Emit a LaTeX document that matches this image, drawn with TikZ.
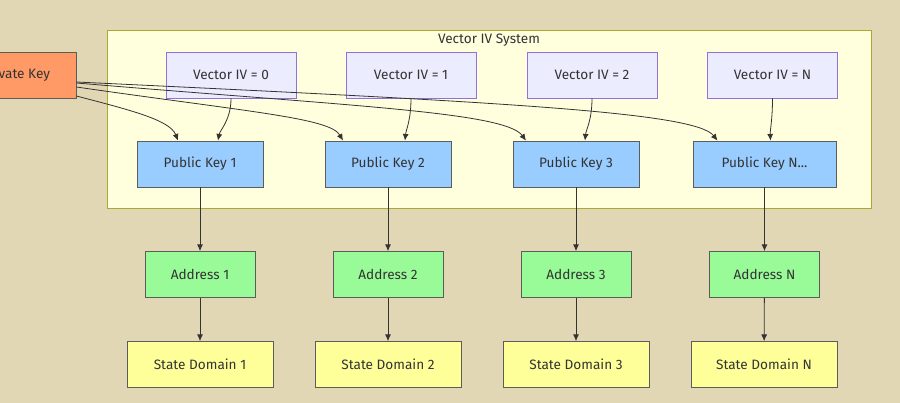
\documentclass[tikz,border=0pt]{standalone}
\usepackage{fontspec}
\setmainfont{Fira Sans}
\usepackage{xcolor}
\usetikzlibrary{arrows.meta,positioning,calc}
\definecolor{bgcol}{RGB}{226,215,180}
\definecolor{grpfill}{RGB}{255,255,222}
\definecolor{grpline}{RGB}{170,170,51}
\definecolor{ivfill}{RGB}{236,236,255}
\definecolor{ivline}{RGB}{147,112,219}
\definecolor{keyfill}{RGB}{153,204,255}
\definecolor{addrfill}{RGB}{152,251,152}
\definecolor{statefill}{RGB}{255,255,153}
\definecolor{privfill}{RGB}{255,153,102}
\definecolor{ink}{RGB}{51,51,51}

\begin{document}
\begin{tikzpicture}[
    x=0.75pt,
    y=-0.75pt,
    >=Latex,
    font=\fontsize{10.2}{12}\selectfont,
    box/.style={draw=ink!80, text=ink, minimum height=46*0.75pt, inner sep=0pt, line width=0.6pt},
    privbox/.style={box, fill=privfill, minimum width=120*0.75pt},
    ivbox/.style={box, draw=ivline, fill=ivfill, minimum width=130*0.75pt},
    pubbox/.style={box, fill=keyfill, minimum width=126*0.75pt},
    addrbox/.style={box, fill=addrfill, minimum width=110*0.75pt},
    statebox/.style={box, fill=statefill, minimum width=146*0.75pt},
    edge/.style={->, draw=ink, line width=0.6pt, >={Latex[length=5pt,width=4.5pt]}}
]
\useasboundingbox (0,0) rectangle (900,403);
\clip (0,0) rectangle (900,403);
\fill[bgcol] (0,0) rectangle (900,403);

% group
\node[draw=grpline, fill=grpfill, minimum width=764*0.75pt, minimum height=178*0.75pt, inner sep=0pt, line width=0.6pt] (sys) at (489,119) {};
\node[text=ink] (systitle) at (489,40) {Vector IV System};

\node[privbox] (priv) at (16,75) {Private Key};

\node[ivbox] (iv0) at (231,75) {Vector IV = 0};
\node[ivbox] (iv1) at (411,75) {Vector IV = 1};
\node[ivbox] (iv2) at (592,75) {Vector IV = 2};
\node[ivbox] (ivn) at (772.5,75) {Vector IV = N};

\node[pubbox] (pk1) at (200,164) {Public Key 1};
\node[pubbox] (pk2) at (388,164) {Public Key 2};
\node[pubbox] (pk3) at (576,164) {Public Key 3};
\node[pubbox, minimum width=143*0.75pt] (pkn) at (764.5,164) {Public Key N...};

\node[addrbox] (ad1) at (200,274.5) {Address 1};
\node[addrbox] (ad2) at (388,274.5) {Address 2};
\node[addrbox] (ad3) at (576,274.5) {Address 3};
\node[addrbox] (adn) at (764.5,274.5) {Address N};

\node[statebox] (sd1) at (200,364.5) {State Domain 1};
\node[statebox] (sd2) at (388,364.5) {State Domain 2};
\node[statebox] (sd3) at (576,364.5) {State Domain 3};
\node[statebox] (sdn) at (764,364.5) {State Domain N};

% private key to public keys
\draw[edge] ($(priv.east)+(0,21)$) .. controls (130,110) and (170,120) .. ($(pk1.north)+(-22,0)$);
\draw[edge] ($(priv.east)+(0,12)$) .. controls (250,112) and (330,118) .. ($(pk2.north)+(-45,0)$);
\draw[edge] ($(priv.east)+(0,8)$) .. controls (350,106) and (505,112) .. ($(pk3.north)+(-50,0)$);
\draw[edge] ($(priv.east)+(0,7)$) .. controls (500,102) and (695,112) .. ($(pkn.north)+(-47,0)$);

% vector iv to public keys
\draw[edge] (iv0.south) .. controls (231,120) and (220,130) .. ($(pk1.north)+(18,0)$);
\draw[edge] (iv1.south) .. controls (411,120) and (406,130) .. ($(pk2.north)+(17,0)$);
\draw[edge] (iv2.south) .. controls (592,120) and (586,130) .. ($(pk3.north)+(9,0)$);
\draw[edge] (ivn.south) .. controls (772.5,120) and (770,130) .. ($(pkn.north)+(6,0)$);

\foreach \k in {1,2,3,n}{
  \draw[edge] (pk\k) -- (ad\k);
  \draw[edge] (ad\k) -- (sd\k);
}
\end{tikzpicture}
\end{document}
